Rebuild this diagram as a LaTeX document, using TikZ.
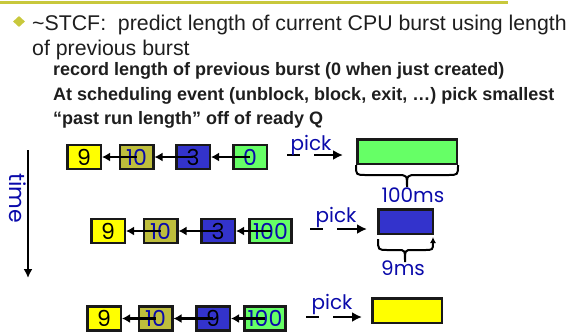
\documentclass[tikz,border=0pt]{standalone}
\usepackage{fontspec}
\setmainfont{Liberation Sans}
\newfontfamily\handfont{Poppins}
\usetikzlibrary{shapes.geometric}
\usetikzlibrary{positioning}
\usetikzlibrary{arrows.meta}
\definecolor{olivebar}{RGB}{200,200,60}
\definecolor{qyellow}{RGB}{255,255,0}
\definecolor{qolive}{RGB}{190,190,60}
\definecolor{qblue}{RGB}{51,51,204}
\definecolor{qgreen}{RGB}{102,255,102}
\definecolor{inkblue}{RGB}{10,10,170}
\definecolor{slidetext}{RGB}{30,30,30}

\tikzset{
  qbox/.style={draw=black!90, line width=2.5pt, minimum width=33.5pt,
    minimum height=24pt, inner sep=0pt, text=inkblue,
    font=\handfont\fontsize{22}{22}\selectfont},
  runbox/.style={draw=black!90, line width=2.5pt, minimum height=24.5pt, inner sep=0pt},
  link/.style={line width=2.5pt, -{Latex[length=8pt,width=9pt]}},
  pickarrow/.style={line width=2.5pt, dash pattern=on 13pt off 14pt on 30pt off 1pt,
    -{Latex[length=10pt,width=10pt]}},
  handlabel/.style={text=inkblue, inner sep=0pt, font=\handfont\fontsize{20}{20}\selectfont},
  slideline/.style={anchor=base west, inner sep=0pt, text=slidetext},
}

\begin{document}
\begin{tikzpicture}[x=1pt,y=-1pt]
\useasboundingbox (0,0) rectangle (569,333);

%---------------------------------------
% Slide header and bullet text
%---------------------------------------
\draw[olivebar, line width=3pt] (0,2.5) -- (508,2.5);
\node[diamond, fill=olivebar, minimum width=12pt, minimum height=11pt, inner sep=0pt] (bullet) at (19,21.5) {};

\node[slideline, font=\fontsize{21.3}{22}\selectfont] (line1) at (32,30)
  {\textasciitilde STCF:\ \ predict length of current CPU burst using length};
\node[slideline, font=\fontsize{21.3}{22}\selectfont] (line2) at (32,55) {of previous burst};
\node[slideline, font=\bfseries\fontsize{18}{18}\selectfont] (line3) at (53,75)
  {record length of previous burst (0 when just created)};
\node[slideline, font=\bfseries\fontsize{18}{18}\selectfont] (line4) at (53,100)
  {At scheduling event (unblock, block, exit, …) pick smallest};
\node[slideline, font=\bfseries\fontsize{18}{18}\selectfont] (line5) at (53,124)
  {“past run length” off of ready Q};

%---------------------------------------
% Time axis
%---------------------------------------
\coordinate (ttop) at (28,150);
\coordinate (tbot) at (28,278);
\draw[line width=2.5pt, -{Latex[length=9pt,width=9pt]}] (ttop) -- (tbot);
\node[handlabel, rotate=-90, font=\handfont\fontsize{22}{22}\selectfont] (time) at (18,198) {time};

%====================================================
% Row 1: ready Q 9, 10, 3, 0
%====================================================
\def\ya{157}
\node[qbox, fill=qyellow, text=black] (a9)  at (84,\ya) {9};
\node[qbox, fill=qolive]              (a10) at (136.5,\ya) {10};
\node[qbox, fill=qblue, text=black]   (a3)  at (193,\ya) {3};
\node[qbox, fill=qgreen]              (a0)  at (250,\ya) {0};
\draw[link] (a10.center) -- (a9.east);
\draw[link] (a3.center) -- (a10.east);
\draw[link] (a0.center) -- (a3.east);

\coordinate (pa1) at (287,155);
\coordinate (pa2) at (343,155);
\draw[pickarrow] (pa1) -- (pa2);
\node[handlabel, anchor=base] (picka) at (311,150) {pick};

\node[runbox, fill=qgreen, minimum width=99.5pt] (runa) at (407,151.5) {};
\draw[line width=2pt] (runa.south west) .. controls (356,175) .. (366,175) -- (397,175)
  .. controls (407,175) .. (407,187) .. controls (407,175) .. (417,175) -- (448,175)
  .. controls (458,175) .. (runa.south east);
\node[handlabel] (lena) at (413,195) {100ms};

%====================================================
% Row 2: ready Q 9, 10, 3, 100
%====================================================
\def\yb{231}
\node[qbox, fill=qyellow, text=black]        (b9)   at (108,\yb) {9};
\node[qbox, fill=qolive]                     (b10)  at (160.5,\yb) {10};
\node[qbox, fill=qblue, text=black]          (b3)   at (218,\yb) {3};
\node[qbox, fill=qgreen, minimum width=42pt] (b100) at (270.5,\yb) {100};
\draw[link] (b10.center) -- (b9.east);
\draw[link] (b3.center) -- (b10.east);
\draw[link] (b100.center) -- (b3.east);

\coordinate (pb1) at (310,229);
\coordinate (pb2) at (367,229);
\draw[pickarrow] (pb1) -- (pb2);
\node[handlabel, anchor=base] (pickb) at (336,222) {pick};

\node[runbox, fill=qblue, minimum width=54.5pt] (runb) at (405.5,221.5) {};
\coordinate (bra) at (378,239);
\coordinate (brb) at (433,237);
\draw[line width=2pt, -{Latex[length=6pt,width=6pt]}] (bra) .. controls (378,250) .. (388,250) -- (398,250)
  .. controls (405,250) .. (405,262) .. controls (405,250) .. (412,250) -- (424,250)
  .. controls (433,250) .. (brb);
\node[handlabel] (lenb) at (403,268) {9ms};

%====================================================
% Row 3: ready Q 9, 10, 9, 100
%====================================================
\def\yc{318.5}
\node[qbox, fill=qyellow, text=black]        (c9a)  at (104,\yc) {9};
\node[qbox, fill=qolive]                     (c10)  at (155.5,\yc) {10};
\node[qbox, fill=qblue, text=black]          (c9b)  at (213,\yc) {9};
\node[qbox, fill=qgreen, minimum width=41pt] (c100) at (265,\yc) {100};
\draw[link] (c10.center) -- (c9a.east);
\draw[link] (c9b.center) -- (c10.east);
\draw[link] (c100.center) -- (c9b.east);

\coordinate (pc1) at (306,317);
\coordinate (pc2) at (362,317);
\draw[pickarrow] (pc1) -- (pc2);
\node[handlabel, anchor=base] (pickc) at (332,309) {pick};

\node[runbox, fill=qyellow, minimum width=69.5pt] (runc) at (407,310.5) {};

\end{tikzpicture}
\end{document}
